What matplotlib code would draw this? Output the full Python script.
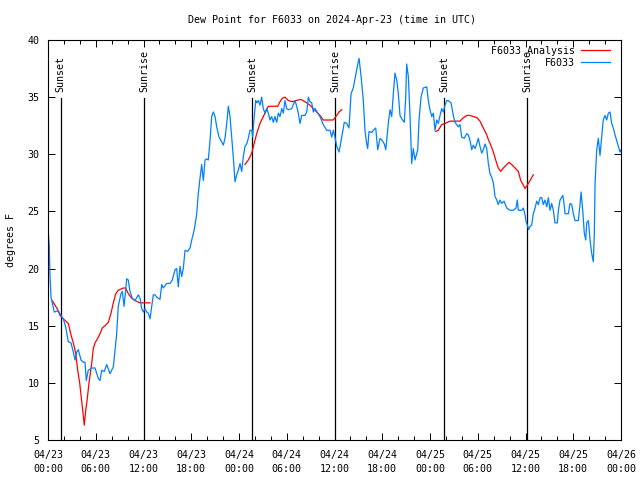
import numpy as np
import matplotlib
matplotlib.use('Agg')
from matplotlib import pyplot as plt
from matplotlib.ticker import MultipleLocator

nan = float('nan')

# hours since 2024-04-23 00:00 UTC
obs_hours = [
    0.04, 0.16, 0.25, 0.38, 0.54, 0.79, 1.29, 1.63, 1.92, 2.22, 2.55, 2.89, 3.18, 3.39, 3.61, 3.81,
    4.15, 4.44, 4.65, 4.81, 5.06, 5.49, 5.91, 6.32, 6.53, 6.75, 7.07, 7.38, 7.79, 8.21, 8.42, 8.63,
    8.83, 9.17, 9.34, 9.55, 9.76, 9.89, 10.09, 10.30, 10.59, 10.93, 11.35, 11.56, 11.77, 11.98, 12.19,
    12.40, 12.60, 12.82, 13.03, 13.23, 13.45, 13.66, 14.07, 14.29, 14.49, 14.92, 15.33, 15.62, 15.96,
    16.17, 16.37, 16.59, 16.80, 17.00, 17.22, 17.55, 17.84, 18.06, 18.38, 18.69, 18.89, 19.10, 19.31,
    19.52, 19.73, 19.94, 20.14, 20.36, 20.57, 20.77, 20.99, 21.20, 21.49, 21.74, 22.03, 22.24, 22.46,
    22.66, 22.87, 23.08, 23.28, 23.50, 23.71, 23.91, 24.13, 24.34, 24.54, 24.75, 24.97, 25.17, 25.38,
    25.60, 25.72, 25.80, 25.92, 26.10, 26.22, 26.43, 26.64, 26.85, 27.05, 27.27, 27.48, 27.68, 27.90,
    28.11, 28.31, 28.52, 28.74, 28.94, 29.15, 29.37, 29.57, 29.78, 29.99, 30.20, 30.62, 31.04, 31.25,
    31.45, 31.67, 31.88, 32.29, 32.51, 32.71, 32.92, 33.14, 33.34, 33.55, 33.89, 34.18, 34.59, 35.02,
    35.44, 35.65, 35.85, 36.06, 36.28, 36.57, 36.91, 37.23, 37.54, 37.82, 38.08, 38.36, 38.79, 39.08,
    39.33, 39.62, 39.83, 40.05, 40.17, 40.34, 40.68, 40.88, 41.18, 41.43, 41.72, 42.01, 42.26, 42.44,
    42.56, 42.76, 42.98, 43.19, 43.39, 43.60, 43.82, 44.02, 44.23, 44.45, 44.77, 44.95, 45.07, 45.28,
    45.49, 45.70, 45.90, 46.12, 46.46, 46.62, 46.87, 47.16, 47.59, 47.79, 48.00, 48.22, 48.42, 48.63,
    48.84, 49.05, 49.26, 49.47, 49.67, 49.89, 50.10, 50.30, 50.64, 50.93, 51.14, 51.56, 51.77, 51.98,
    52.31, 52.61, 52.82, 53.03, 53.24, 53.44, 53.66, 53.87, 54.07, 54.28, 54.50, 54.70, 54.91, 55.13,
    55.33, 55.54, 55.75, 55.96, 56.17, 56.39, 56.58, 56.80, 57.01, 57.30, 57.64, 58.05, 58.47, 58.81,
    58.97, 59.10, 59.53, 59.73, 59.94, 60.07, 60.23, 60.41, 60.57, 60.78, 60.98, 61.20, 61.41, 61.61,
    61.83, 62.04, 62.24, 62.45, 62.67, 62.87, 63.08, 63.29, 63.50, 63.71, 64.00, 64.13, 64.34, 64.68,
    64.84, 64.97, 65.38, 65.59, 65.81, 66.01, 66.22, 66.64, 66.85, 66.98, 67.19, 67.39, 67.57, 67.69,
    67.90, 68.11, 68.32, 68.52, 68.65, 68.74, 68.95, 69.15, 69.36, 69.57, 69.77, 69.99, 70.20, 70.41,
    70.62, 70.83, 71.03, 71.25, 71.46, 71.66, 71.87, 72.0,
]
obs_dewpoint = [
    23.2, 21.9, 19.4, 17.5, 17.0, 16.2, 16.3, 15.9, 15.6, 14.9, 13.6, 13.5, 12.7, 12.0, 12.7, 12.9,
    12.0, 11.8, 11.8, 10.2, 11.1, 11.3, 11.3, 10.4, 10.2, 11.1, 11.0, 11.6, 10.8, 11.4, 12.9, 14.3,
    16.7, 17.8, 18.0, 16.7, 18.1, 19.1, 19.0, 18.0, 17.4, 17.2, 17.7, 17.4, 16.5, 16.2, 16.5,
    16.2, 16.1, 15.6, 16.7, 17.7, 17.7, 17.5, 17.3, 18.6, 18.3, 18.7, 18.7, 19.0, 19.9,
    20.0, 18.4, 20.2, 19.3, 20.0, 21.6, 21.5, 21.8, 22.5, 23.4, 24.8, 26.6, 27.9, 29.1,
    27.7, 29.5, 29.6, 29.5, 31.2, 33.3, 33.7, 33.3, 32.4, 31.5, 31.2, 30.8, 31.4, 32.7,
    34.2, 33.3, 31.5, 29.8, 27.6, 28.2, 28.6, 29.2, 28.5, 29.8, 30.7, 30.9, 31.4, 32.1,
    32.1, 31.5, 32.4, 33.3, 34.7, 34.5, 34.7, 34.3, 35.0, 34.0, 33.6, 34.0, 33.6, 33.0,
    33.3, 32.8, 33.3, 32.8, 33.6, 33.3, 34.0, 33.6, 34.7, 34.0, 33.9, 34.0, 34.7, 34.2,
    33.6, 32.7, 33.4, 33.4, 33.7, 35.0, 34.6, 34.5, 33.7, 34.0, 33.6, 33.3, 32.6, 32.1,
    32.1, 31.5, 32.1, 31.5, 30.7, 30.2, 31.5, 32.8, 32.7, 32.3, 35.3, 35.8, 37.4, 38.4,
    36.9, 34.7, 32.1, 30.9, 30.5, 32.0, 31.9, 32.1, 32.3, 30.4, 31.4, 31.2, 30.9, 30.4,
    31.2, 32.7, 33.9, 33.3, 35.3, 37.1, 36.5, 35.3, 33.4, 33.1, 32.8, 35.0, 37.9, 36.8,
    33.3, 29.2, 30.5, 29.5, 30.4, 33.0, 35.0, 35.8, 35.9, 34.7, 33.9, 33.3, 33.6, 32.1,
    33.0, 32.7, 33.4, 34.0, 33.7, 34.3, 34.7, 34.7, 34.5, 33.4, 32.8, 32.4, 32.6, 31.5,
    31.4, 31.8, 31.7, 31.2, 30.4, 30.8, 30.5, 30.9, 31.4, 30.7, 30.1, 30.4, 30.9, 30.5,
    29.2, 28.3, 28.0, 27.5, 26.3, 26.0, 25.6, 26.0, 25.7, 25.9, 25.3, 25.1, 25.1, 25.3,
    26.0, 25.1, 25.1, 25.3, 24.7, 24.1, 23.8, 23.4, 23.7, 23.8, 24.8, 25.3, 25.9, 25.6,
    26.2, 26.2, 25.6, 26.0, 25.4, 26.2, 25.1, 25.7, 25.1, 24.0, 24.0, 25.1, 26.0, 26.4,
    25.7, 24.8, 24.8, 25.7, 25.6, 24.8, 24.2, 24.2, 25.6, 26.7, 25.1, 23.1, 22.5, 24.0,
    24.2, 22.5, 21.3, 20.6, 23.1, 27.5, 30.4, 31.4, 29.9, 31.5, 33.0, 33.4, 33.0, 33.6,
    33.7, 32.7, 32.3, 31.7, 31.2, 30.7, 30.2, 30.4,
]

# analysis, nan marks the gaps between runs
ana_hours = [
    0.54, 0.88, 1.22, 1.51, 1.92, 2.55, 2.89, 3.18, 3.48, 3.73, 3.98, 4.23, 4.36, 4.56, 4.74, 4.90,
    5.15, 5.49, 5.69, 5.91, 6.25, 6.53, 6.82, 7.16, 7.58, 7.92, 8.21, 8.51, 8.83, 9.46, 9.76, 10.09,
    10.52, 10.93, 11.56, 12.82, nan,
    24.75, 25.17, 25.60, 25.92, 26.22, 26.64, 27.05, 27.48, 27.68, 28.86, 29.15, 29.44, 29.78, 30.20,
    30.70, 31.13, 31.79, 32.29, 32.92, 33.34, 33.76, 34.18, 34.59, 35.85, 36.28, 36.57, 36.91, nan,
    48.72, 49.05, 49.47, 49.89, 50.52, 51.77, 52.19, 52.65, 53.03, 53.44, 53.91, 54.28, 54.70, 55.13,
    55.33, 55.63, 55.96, 56.30, 56.58, 56.88, 57.22, 57.64, 57.93, 58.27, 58.68, 59.10, 59.40, 59.73,
    59.94, 60.23, 60.57, 60.98,
]
ana_dewpoint = [
    17.2, 16.8, 16.4, 15.9, 15.6, 15.2, 14.2, 13.5, 12.6, 11.1, 10.0, 8.4, 7.6, 6.3, 7.6, 8.4,
    10.0, 11.7, 13.0, 13.5, 13.9, 14.3, 14.8, 15.0, 15.3, 16.1, 17.0, 17.8, 18.1, 18.3, 18.3, 17.8,
    17.4, 17.2, 17.0, 17.0, nan,
    29.1, 29.5, 30.1, 31.0, 31.8, 32.7, 33.3, 33.9, 34.2, 34.2, 34.6, 34.9, 35.0, 34.7,
    34.6, 34.7, 34.8, 34.6, 34.3, 34.0, 33.7, 33.4, 33.0, 33.0, 33.4, 33.7, 33.9, nan,
    32.0, 32.1, 32.6, 32.7, 32.9, 32.9, 33.2, 33.4, 33.4, 33.3, 33.2, 32.9, 32.3, 31.7,
    31.3, 30.8, 30.2, 29.4, 28.8, 28.5, 28.8, 29.1, 29.3, 29.1, 28.8, 28.5, 27.7, 27.3,
    27.0, 27.3, 27.7, 28.2,
]

sun_hours = [1.6, 12.1, 25.67, 36.1, 49.8, 60.2]
sun_labels = ['Sunset', 'Sunrise', 'Sunset', 'Sunrise', 'Sunset', 'Sunrise']

tick_hours = list(range(0, 73, 6))
tick_labels = ['04/23\n00:00', '04/23\n06:00', '04/23\n12:00', '04/23\n18:00',
               '04/24\n00:00', '04/24\n06:00', '04/24\n12:00', '04/24\n18:00',
               '04/25\n00:00', '04/25\n06:00', '04/25\n12:00', '04/25\n18:00',
               '04/26\n00:00']


def main():
    plt.rcParams['font.family'] = 'DejaVu Sans Mono'
    plt.rcParams['font.size'] = 7.2

    fig = plt.figure(figsize=(6.4, 4.8), dpi=100)
    ax = fig.add_axes([48 / 640, 40 / 480, 573 / 640, 400 / 480])

    for t, name in zip(sun_hours, sun_labels):
        ax.plot([t, t], [5, 34.9], color='black', lw=0.9, zorder=1)
        ax.text(t, 35.45, name, rotation=90, ha='center', va='bottom', zorder=1)

    ax.plot(ana_hours, ana_dewpoint, color='#ff0000', lw=0.9, label='F6033 Analysis', zorder=2)
    ax.plot(obs_hours, obs_dewpoint, color='#0080ff', lw=0.9, label='F6033', zorder=2)

    ax.set_xlim(0, 72)
    ax.set_ylim(5, 40)
    ax.set_xticks(tick_hours)
    ax.set_xticklabels(tick_labels)
    for lab in ax.get_xticklabels():
        lab.set_linespacing(1.5)
    ax.xaxis.set_minor_locator(MultipleLocator(2))
    ax.yaxis.set_major_locator(MultipleLocator(5))

    ax.tick_params(which='both', direction='in', top=True, right=True, width=0.7, colors='black')
    ax.tick_params(which='major', length=5)
    ax.tick_params(which='minor', length=3)
    ax.tick_params(axis='x', which='major', pad=7)
    ax.tick_params(axis='y', which='major', pad=6)
    for sp in ax.spines.values():
        sp.set_linewidth(0.8)

    ax.legend(loc='upper right', bbox_to_anchor=(0.981, 0.985), frameon=False, markerfirst=False,
              borderpad=0, borderaxespad=0, handlelength=2.9, handletextpad=0.65, labelspacing=0.2)

    fig.text(0.5195, 1 - 20 / 480, 'Dew Point for F6033 on 2024-Apr-23 (time in UTC)',
             ha='center', va='center')
    fig.text(11 / 640, 0.5, 'degrees F', rotation=90, ha='center', va='center')

    fig.savefig('out.png', dpi=100)


if __name__ == '__main__':
    main()
